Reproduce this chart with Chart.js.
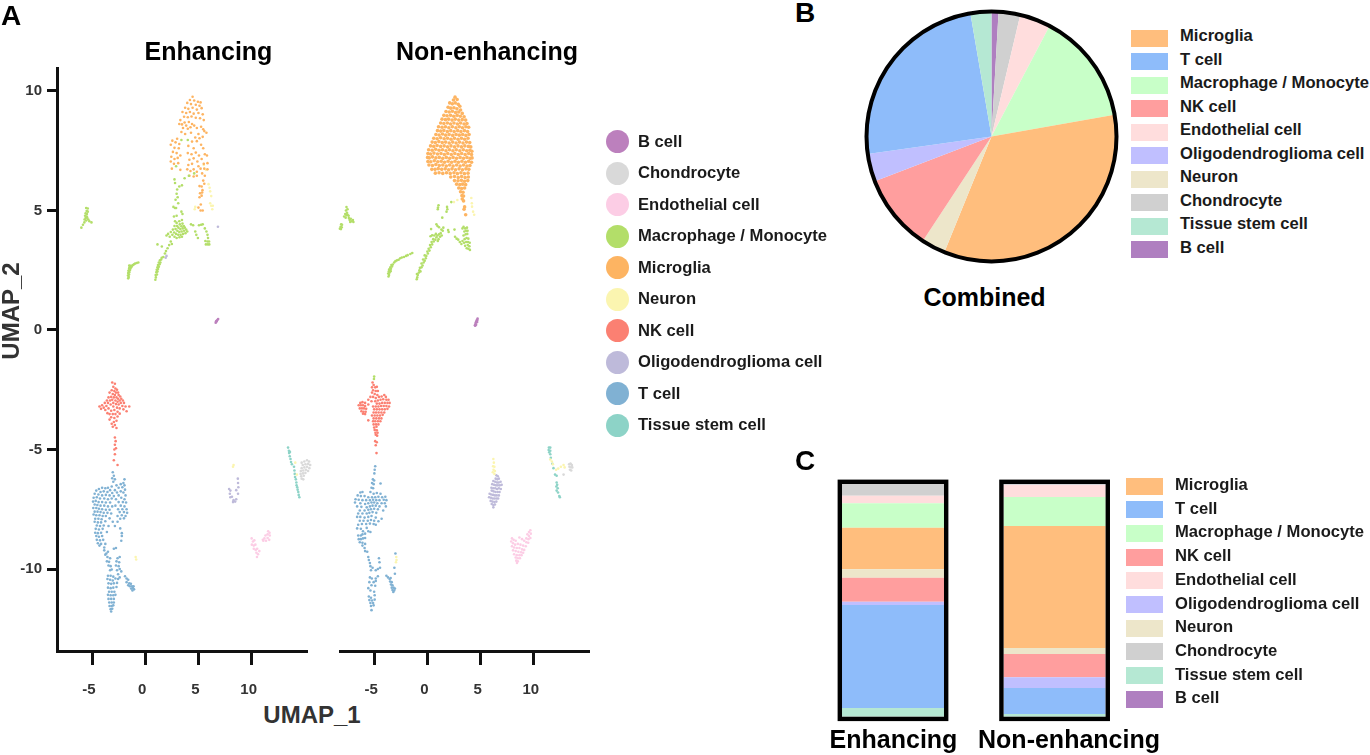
<!DOCTYPE html>
<html><head><meta charset="utf-8">
<script src="https://cdn.jsdelivr.net/npm/chart.js@4"></script>
<style>
html,body{margin:0;padding:0;background:#fff;width:1370px;height:755px;overflow:hidden;font-family:"Liberation Sans",Arial,sans-serif;font-weight:bold}
canvas{position:absolute}
.t{position:absolute;white-space:nowrap;transform:translate(-50%,-50%);color:#000;line-height:1}
.l{position:absolute;white-space:nowrap;transform:translateY(-50%);font-size:16.6px;line-height:1;color:#1a1a1a}
.s{position:absolute}
</style></head><body>
<script>
const panelTitles=['Enhancing','Non-enhancing'];
const xTitle='UMAP_1', yTitle='UMAP_2', pieTitle='Combined';
const scatterNames=['B cell','Chondrocyte','Endothelial cell','Macrophage / Monocyte','Microglia','Neuron','NK cell','Oligodendroglioma cell','T cell','Tissue stem cell'];
const scatterColors=['#BC80BD','#D9D9D9','#FCCDE5','#B3DE69','#FDB462','#FBF5B0','#FB8072','#BEBADA','#80B1D3','#8DD3C7'];
const stackNames=['Microglia','T cell','Macrophage / Monocyte','NK cell','Endothelial cell','Oligodendroglioma cell','Neuron','Chondrocyte','Tissue stem cell','B cell'];
const stackColors=['#FFBE7D','#8EBCFA','#C8FFC8','#FF9E9E','#FFDDDD','#C0BFFF','#EDE6CA','#D0D0D0','#B5E8D3','#AF7FC0'];
const pieNames=['B cell','Chondrocyte','Endothelial cell','Macrophage / Monocyte','Microglia','Neuron','NK cell','Oligodendroglioma cell','T cell','Tissue stem cell'];
const pieValues=[0.9,2.8,4.0,14.5,33.9,3.1,9.9,3.6,24.5,2.7];
const barTissue=[3.7,1.15];
const barT=[44.3,11.2];
const barOligo=[1.4,4.6];
const barNK=[10.3,10];
const barNeuron=[3.7,2.6];
const barMicroglia=[17.8,52.4];
const barMacro=[10.5,12.5];
const barEndo=[3.2,5.15];
const barChondro=[5.1,0.3];
const barB=[0,0.1];
const xTicks=[-5,0,5,10];
const yTicks=[-10,-5,0,5,10];

// Enhancing, flat x,y lists
const enhB=[6.62,0.3,6.68,0.34,6.72,0.38,6.78,0.42,6.85,0.46,6.66,0.36];
const enhChondro=[14.7,-5.55,14.95,-5.5,15.2,-5.45,15.4,-5.5,14.8,-5.65,15.05,-5.62,15.3,-5.6,15.5,-5.65,14.7,-5.78,14.95,-5.75,15.2,-5.72,15.42,-5.78,14.62,-5.9,14.85,-5.88,15.1,-5.85,15.3,-5.9,14.6,-6.02,14.82,-6,15.05,-5.98,14.65,-6.12,14.9,-6.1,14.7,-6.22,14.85,-6.25];
const enhEndo=[10.0,-8.72,10.12,-8.85,10.25,-8.8,10.02,-8.98,10.2,-9.02,10.35,-8.98,10.2,-9.15,10.38,-9.2,10.52,-9.15,10.45,-9.32,10.6,-9.38,10.5,-9.5,10.72,-9.25,11.05,-8.78,11.2,-8.72,11.35,-8.82,11.5,-8.7,11.65,-8.78,11.3,-8.6,11.5,-8.55,11.7,-8.6,11.55,-8.42,11.68,-8.48,11.1,-8.82];
const enhMacro=[-5.55,5.1,-5.4,5.08,-5.5,4.98,-5.4,4.95,-5.6,4.88,-5.48,4.85,-5.65,4.78,-5.5,4.75,-5.6,4.68,-5.45,4.7,-5.7,4.62,-5.55,4.58,-5.35,4.62,-5.25,4.55,-5.05,4.5,-5.72,4.5,-5.85,4.4,-6.0,4.28,
-1.6,2.16,-1.55,2.22,-1.62,2.28,-1.52,2.32,-1.6,2.38,-1.5,2.42,-1.58,2.48,-1.45,2.5,-1.52,2.56,-1.4,2.56,-1.48,2.62,-1.32,2.62,-1.4,2.68,-1.25,2.68,-1.15,2.72,-1.05,2.75,-0.95,2.78,-0.8,2.8,-0.65,2.82,-1.5,2.7,
0.95,2.1,1.0,2.2,0.98,2.3,1.1,2.32,1.05,2.42,1.15,2.45,1.08,2.52,1.2,2.55,1.15,2.62,1.28,2.65,1.2,2.72,1.35,2.75,1.28,2.82,1.42,2.82,1.38,2.92,1.5,2.95,1.55,3.02,1.7,3.05,1.85,3.2,1.95,3.3,2.1,3.42,2.25,3.55,2.4,3.7,1.15,3.58,1.56,3.49,2.5,3.6,
2.0,3.95,2.15,4.02,2.3,3.9,2.4,4.1,2.55,3.98,2.6,4.2,2.72,4.08,2.75,3.9,2.85,4.22,2.9,4.02,2.95,3.85,3.0,4.35,3.02,4.15,3.1,3.98,3.12,4.28,3.2,4.1,3.22,3.88,3.25,4.42,3.3,4.22,3.32,3.98,3.4,4.34,3.42,4.12,3.45,3.9,3.5,4.45,3.52,4.25,3.55,4.02,3.62,4.35,3.65,4.15,3.72,4.28,3.78,4.05,3.85,4.2,3.95,4.12,2.95,4.48,3.2,4.55,3.45,4.6,2.75,4.35,2.8,4.55,4.3,4.42,4.5,4.38,
2.7,4.75,2.95,4.78,3.5,4.85,2.9,5.1,3.4,4.95,
4.7,4.12,4.8,3.98,4.95,3.85,5.05,4.38,5.25,4.4,5.4,4.42,5.6,4.25,5.75,4.12,5.85,3.98,5.9,3.85,5.65,3.72,5.85,3.7,6.0,3.7,5.7,3.58,5.88,3.58,6.02,3.58,
2.75,6.3,2.8,6.15,3.2,6.0,3.45,6.05,3.0,5.88,2.95,5.7,3.05,5.55,2.85,5.45,3.1,5.3,2.65,5.15,2.8,5.1,3.7,6.35,4.1,6.45,2.9,6.85,3.4,7.95,4.0,7.95,4.6,6.55];
const enhMicroglia=[4.45,9.76,4.2,9.62,4.6,9.6,4.95,9.55,5.2,9.52,3.95,9.5,4.3,9.45,4.75,9.42,5.1,9.38,3.75,9.3,4.05,9.25,4.45,9.3,4.85,9.22,5.3,9.28,3.5,9.12,3.85,9.08,4.2,9.12,4.55,9.05,5.0,9.08,5.4,9.02,3.65,8.92,4.0,8.9,4.35,8.93,4.75,8.88,5.15,8.86,5.5,8.78,3.3,8.78,3.7,8.68,3.45,8.6,3.85,8.55,4.1,8.7,4.4,8.62,4.6,8.55,3.2,8.62,3.55,8.45,4.0,8.42,4.25,8.48,4.85,8.45,5.25,8.5,5.45,8.4,3.4,8.28,3.75,8.2,4.3,8.25,5.0,8.2,5.55,8.32,5.75,8.25,
3.0,8.0,4.7,8.05,5.1,8.02,5.4,8.08,2.55,7.92,2.85,7.85,3.2,7.78,4.4,7.88,4.85,7.9,5.25,7.75,2.4,7.75,2.75,7.62,3.15,7.6,4.05,7.7,4.55,7.6,5.45,7.6,2.6,7.45,2.95,7.4,3.3,7.3,4.0,7.4,4.35,7.35,4.75,7.42,5.05,7.3,5.6,7.35,2.45,7.25,2.75,7.15,3.05,7.2,4.15,7.12,4.55,7.18,4.9,7.05,5.3,7.15,5.8,7.3,2.4,7.05,2.7,6.95,3.1,6.98,4.05,6.9,4.4,6.95,5.0,6.85,5.5,6.95,5.85,6.98,2.5,6.75,3.3,6.7,3.95,6.72,4.25,6.65,4.55,6.72,4.85,6.62,5.2,6.75,5.55,6.75,5.85,6.72,4.15,6.45,4.55,6.42,4.85,6.45,5.35,6.55,5.6,6.45,5.45,6.25,5.55,6.12,5.3,6.0,5.1,6.02,5.38,5.85,5.15,5.72,5.3,5.62,5.1,5.55,5.35,5.75,5.0,5.12,5.2,5.0,5.22,5.25,5.4,5.0];
const enhNeuron=[5.95,6.1,6.05,5.95,6.1,5.8,6.2,5.6,6.1,5.3,6.2,5.2,6.3,5.05,6.35,5.2,4.7,5.15,4.65,5.05,5.5,6.9,5.7,6.7,14.1,-5.55,14.25,-6.05,8.3,-5.65,8.25,-5.72,-0.85,-9.6,-0.9,-9.5];
const enhNK=[-3.1,-2.2,-2.85,-2.25,-3.0,-2.38,-2.8,-2.45,-2.9,-2.55,-2.65,-2.5,-3.15,-2.52,-2.75,-2.62,-2.55,-2.62,-3.05,-2.68,-3.35,-2.62,-2.85,-2.72,-2.5,-2.72,-2.35,-2.78,-3.2,-2.8,-2.95,-2.82,-2.7,-2.82,-3.45,-2.82,-2.55,-2.88,-2.25,-2.88,-3.1,-2.92,-2.8,-2.95,-2.4,-2.95,-3.6,-2.95,-3.3,-2.95,-2.1,-2.95,-2.6,-3.0,-3.0,-3.05,-2.3,-3.05,-3.5,-3.05,-3.8,-3.05,-2.0,-3.05,-2.75,-3.1,-3.25,-3.12,-2.5,-3.12,-4.05,-3.15,-4.3,-3.2,-3.65,-3.18,-3.9,-3.25,-3.0,-3.2,-2.15,-3.18,-1.85,-3.2,-2.65,-3.25,-3.45,-3.28,-3.75,-3.35,-2.4,-3.28,-4.15,-3.3,-2.9,-3.35,-3.2,-3.38,-1.5,-3.2,-2.05,-3.32,-2.6,-3.42,-3.55,-3.48,-3.35,-3.52,-3.05,-3.52,-2.8,-3.52,-2.4,-3.5,-1.75,-3.4,-3.2,-3.65,-2.9,-3.68,-2.6,-3.62,-3.35,-3.75,-2.95,-3.85,-2.7,-3.8,-3.15,-3.92,-2.85,-3.98,-3.05,-4.05,-2.7,-4.1,-2.85,-4.5,-2.78,-4.65,-2.85,-4.8,-2.75,-4.95,-2.9,-5.0,-2.85,-5.2,-2.95,-5.45,-2.6,-5.65];
const enhOligo=[8.7,-6.22,8.72,-6.4,8.75,-6.58,8.55,-6.7,8.72,-6.85,7.88,-6.65,8.0,-6.72,7.95,-6.85,8.15,-6.98,8.0,-7.0,8.3,-7.12,8.45,-7.18,8.55,-7.08,8.25,-7.2,6.83,4.32,2.0,3.1,1.92,3.02];
const enhT=[-3.05,-5.95,-2.95,-6.1,-3.1,-6.2,-2.85,-6.25,-1.95,-6.25,-3.0,-6.35,-2.05,-6.4,-2.3,-6.45,-2.7,-6.5,-3.15,-6.55,-1.95,-6.5,-3.5,-6.6,-2.15,-6.58,-2.5,-6.6,-4.35,-6.65,-4.05,-6.6,-3.75,-6.62,-3.3,-6.7,-2.85,-6.7,-1.9,-6.68,-4.6,-6.72,-4.2,-6.78,-3.9,-6.75,-3.55,-6.78,-3.1,-6.82,-2.65,-6.8,-2.3,-6.75,-2.05,-6.8,-4.75,-6.85,-4.4,-6.88,-4.05,-6.92,-3.7,-6.9,-3.35,-6.92,-2.95,-6.95,-2.5,-6.92,-1.85,-6.92,-4.85,-7.02,-4.55,-7.0,-4.25,-7.05,-3.85,-7.05,-3.5,-7.08,-3.15,-7.05,-2.75,-7.08,-2.25,-7.02,-1.95,-7.08,-4.9,-7.18,-4.65,-7.15,-4.38,-7.2,-4.05,-7.2,-3.7,-7.22,-3.3,-7.22,-2.5,-7.2,-2.1,-7.2,-1.8,-7.22,-4.75,-7.3,-4.5,-7.32,-4.2,-7.35,-3.85,-7.35,-3.5,-7.38,-3.1,-7.38,-2.8,-7.35,-2.3,-7.35,-1.95,-7.38,-4.88,-7.45,-4.6,-7.45,-4.35,-7.48,-4.05,-7.5,-3.7,-7.52,-3.35,-7.52,-2.55,-7.5,-2.15,-7.5,-1.75,-7.5,-4.75,-7.6,-4.48,-7.6,-4.2,-7.62,-3.9,-7.65,-3.55,-7.65,-3.2,-7.68,-2.4,-7.62,-2.0,-7.62,-1.7,-7.65,-4.85,-7.72,-4.6,-7.75,-4.3,-7.75,-4.0,-7.78,-3.7,-7.78,-2.6,-7.78,-2.2,-7.75,-1.85,-7.78,-4.7,-7.9,-4.4,-7.9,-4.1,-7.92,-2.35,-7.9,-2.0,-7.88,-3.35,-7.88,-4.75,-8.02,-4.45,-8.05,-4.15,-8.05,-3.75,-8.0,-3.05,-8.02,-2.6,-8.02,-4.55,-8.18,-4.25,-8.2,-3.9,-8.18,-3.45,-8.2,-2.85,-8.2,-4.65,-8.32,-4.35,-8.35,-4.0,-8.32,-2.35,-8.3,-4.7,-8.48,-4.45,-8.5,-4.15,-8.48,-3.6,-8.45,-2.2,-8.5,-4.6,-8.62,-4.35,-8.65,-4.05,-8.62,-2.2,-8.62,-4.55,-8.78,-4.25,-8.8,-3.95,-8.78,-2.25,-8.82,-4.45,-8.92,-4.15,-8.95,-3.75,-8.95,-4.3,-9.02,-3.85,-9.1,-3.85,-9.22,-3.65,-9.35,-3.5,-9.28,-2.95,-9.15,-2.75,-9.12,-3.75,-9.4,-3.55,-9.5,-3.3,-9.55,-3.6,-9.68,-3.4,-9.7,-2.6,-9.55,-2.4,-9.5,-2.7,-9.68,-2.45,-9.72,-3.45,-9.85,-3.25,-9.88,-2.75,-9.85,-2.5,-9.88,-3.3,-10.05,-3.15,-10.02,-2.65,-10.05,-2.4,-10.0,-2.25,-10.1,-3.5,-10.28,-3.25,-10.28,-3.0,-10.32,-2.55,-10.22,-3.55,-10.42,-3.3,-10.45,-3.05,-10.48,-2.8,-10.4,-2.55,-10.42,-2.4,-10.35,-3.45,-10.6,-3.2,-10.62,-2.95,-10.6,-2.65,-10.58,-3.5,-10.78,-3.25,-10.8,-3.0,-10.78,-2.7,-10.75,-3.4,-10.95,-3.15,-10.95,-2.9,-10.95,-3.5,-11.08,-3.25,-11.1,-3.0,-11.1,-2.8,-11.08,-3.45,-11.25,-3.2,-11.25,-2.95,-11.25,-3.38,-11.4,-3.15,-11.4,-2.95,-11.4,-3.35,-11.55,-3.15,-11.55,-3.0,-11.52,-3.25,-11.68,-3.1,-11.66,-3.2,-11.78,
-1.9,-10.3,-1.75,-10.4,-1.6,-10.45,-1.75,-10.55,-1.5,-10.6,-1.6,-10.68,-1.35,-10.62,-1.45,-10.72,-1.25,-10.72,-1.32,-10.82,-1.15,-10.8,-1.2,-10.9,-1.05,-10.85,-1.1,-10.72];
const enhTissue=[13.42,-4.92,13.5,-5.05,13.52,-5.15,13.58,-5.28,13.65,-5.4,13.7,-5.52,13.78,-5.62,13.98,-5.72,14.02,-5.88,14.05,-6.02,14.08,-6.15,14.15,-6.25,14.2,-6.38,14.22,-6.5,14.28,-6.58,14.32,-6.68,14.38,-6.78,14.42,-6.9,14.48,-7.0,13.6,-5.1];
// Non-enhancing, flat x,y lists
const nonB=[4.47,0.2,4.52,0.25,4.55,0.31,4.6,0.36,4.65,0.42,4.72,0.48,4.58,0.22,4.68,0.33,4.5,0.18,4.7,0.42];
const nonChondro=[13.32,-5.62,13.45,-5.6,13.58,-5.65,13.35,-5.72,13.5,-5.74,13.62,-5.75,13.4,-5.85,13.52,-5.88,13.45,-5.6,12.8,-6.05];
const nonEndo=[9.68,-8.38,9.55,-8.45,9.72,-8.52,9.4,-8.55,9.55,-8.62,9.3,-8.72,9.5,-8.75,9.68,-8.7,8.65,-8.68,8.9,-8.75,9.1,-8.82,9.3,-8.88,9.48,-8.9,7.95,-8.72,8.1,-8.78,8.3,-8.82,7.88,-8.85,8.05,-8.92,8.25,-8.98,8.5,-8.95,8.75,-8.98,9.0,-9.02,9.25,-9.05,7.95,-9.05,8.15,-9.1,8.4,-9.12,8.65,-9.12,8.9,-9.18,9.1,-9.2,8.05,-9.22,8.3,-9.25,8.55,-9.28,8.8,-9.3,9.0,-9.32,8.15,-9.38,8.4,-9.42,8.65,-9.42,8.85,-9.42,8.3,-9.52,8.5,-9.55,8.7,-9.55,8.35,-9.65,8.5,-9.68,8.42,-9.75];
const nonMacro=[-7.6,5.14,-7.5,5.05,-7.65,5.0,-7.55,4.9,-7.72,4.85,-7.6,4.8,-7.82,4.75,-7.68,4.7,-7.5,4.82,-7.4,4.78,-7.38,4.68,-7.3,4.6,-7.2,4.65,-7.12,4.55,-7.0,4.6,-6.95,4.52,-7.25,4.52,-8.1,4.42,-8.02,4.4,-8.15,4.32,-8.05,4.3,-8.22,4.24,-8.12,4.22,
-3.65,2.24,-3.6,2.3,-3.68,2.36,-3.55,2.4,-3.62,2.46,-3.5,2.5,-3.58,2.54,-3.42,2.56,-3.48,2.62,-3.32,2.66,-3.38,2.72,-3.25,2.74,-3.12,2.82,-3.0,2.88,-2.85,2.92,-2.7,2.94,-2.55,3.0,-2.4,3.03,-2.2,3.05,-2.0,3.1,-1.85,3.13,-1.6,3.18,-1.42,3.22,-3.45,2.46,
-1.0,2.12,-0.95,2.2,-0.9,2.3,-0.98,2.34,-0.8,2.4,-0.75,2.5,-0.65,2.45,-0.7,2.6,-0.55,2.62,-0.45,2.7,-0.55,2.78,-0.35,2.82,-0.25,2.9,-0.4,2.95,-0.15,3.0,-0.1,3.1,-0.25,3.12,0.05,3.2,0.0,3.28,0.2,3.32,0.12,3.4,0.32,3.46,0.25,3.55,0.45,3.58,0.4,3.68,0.6,3.7,0.55,3.8,0.75,3.78,0.85,3.88,0.3,3.92,0.45,3.96,0.65,3.95,0.95,3.95,1.1,4.0,0.8,4.02,1.25,4.05,1.2,3.9,1.35,3.95,1.05,3.8,0.98,3.72,1.45,4.15,1.32,4.2,1.5,4.28,1.1,4.3,0.95,4.35,0.85,4.42,0.35,4.22,
2.55,4.2,2.6,3.9,2.75,3.82,2.9,3.78,3.05,3.68,3.2,3.6,3.3,3.72,3.45,3.65,3.55,3.52,3.7,3.42,3.85,3.4,4.0,3.35,3.8,3.55,3.95,3.5,3.65,3.68,3.82,3.68,3.98,3.65,3.5,3.8,3.68,3.85,3.85,3.82,3.4,3.95,3.6,4.0,3.75,4.02,3.48,4.12,3.65,4.15,3.78,4.15,3.55,4.25,3.72,4.28,3.3,4.25,3.4,4.32,2.0,4.1,1.95,4.18,
1.05,5.22,1.0,5.12,0.98,5.05,1.85,5.15,1.88,5.05,1.8,4.95,1.4,4.7,2.25,5.35,-5.0,-1.95,-5.02,-2.05];
const nonMicroglia=[2.6,9.74,2.45,9.62,2.8,9.64,2.1,9.5,2.35,9.46,2.62,9.5,2.9,9.44,3.05,9.36,1.95,9.32,2.2,9.28,2.5,9.3,2.78,9.25,3.12,9.2,1.75,9.14,2.05,9.12,2.35,9.15,2.65,9.1,2.95,9.12,3.28,9.06,1.55,8.98,1.85,8.96,2.18,8.98,2.48,8.94,2.8,8.98,3.1,8.94,3.45,8.92,1.38,8.82,1.7,8.8,2.0,8.82,2.32,8.78,2.62,8.82,2.95,8.78,3.28,8.8,3.6,8.78,1.25,8.66,1.55,8.64,1.88,8.66,2.18,8.62,2.5,8.66,2.82,8.62,3.12,8.66,3.45,8.62,3.72,8.64,1.05,8.5,1.38,8.48,1.7,8.5,2.02,8.46,2.35,8.5,2.68,8.46,3.0,8.5,3.3,8.46,3.62,8.5,3.88,8.48,0.95,8.34,1.25,8.32,1.55,8.35,1.88,8.3,2.2,8.34,2.52,8.3,2.85,8.34,3.15,8.3,3.48,8.34,3.78,8.3,0.8,8.18,1.1,8.16,1.42,8.2,1.72,8.15,2.05,8.18,2.38,8.14,2.7,8.18,3.0,8.15,3.32,8.18,3.62,8.14,3.92,8.18,0.6,8.02,0.92,8.0,1.25,8.04,1.58,8.0,1.9,8.02,2.22,7.98,2.55,8.02,2.88,7.98,3.2,8.02,3.5,7.98,3.82,8.02,0.45,7.86,0.75,7.84,1.08,7.88,1.4,7.84,1.72,7.86,2.05,7.82,2.38,7.86,2.7,7.82,3.02,7.86,3.35,7.82,3.68,7.86,3.98,7.84,0.3,7.7,0.6,7.68,0.92,7.72,1.25,7.68,1.58,7.7,1.9,7.66,2.22,7.7,2.55,7.66,2.88,7.7,3.2,7.66,3.52,7.7,3.85,7.68,4.08,7.66,0.12,7.54,0.45,7.52,0.78,7.56,1.1,7.52,1.42,7.54,1.75,7.5,2.08,7.54,2.4,7.5,2.72,7.54,3.05,7.5,3.38,7.54,3.7,7.5,4.0,7.52,4.18,7.48,0.05,7.38,0.3,7.36,0.62,7.4,0.95,7.36,1.28,7.38,1.6,7.34,1.92,7.38,2.25,7.34,2.58,7.38,2.9,7.34,3.22,7.38,3.55,7.34,3.88,7.38,4.15,7.34,0.02,7.22,0.18,7.2,0.48,7.24,0.8,7.2,1.12,7.22,1.45,7.18,1.78,7.22,2.1,7.18,2.42,7.22,2.75,7.18,3.08,7.22,3.4,7.18,3.72,7.22,4.02,7.18,4.2,7.2,0.05,7.05,0.32,7.04,0.65,7.08,0.98,7.04,1.3,7.06,1.62,7.02,1.95,7.06,2.28,7.02,2.6,7.06,2.92,7.02,3.25,7.06,3.58,7.02,3.88,7.06,4.15,7.02,0.15,6.9,0.48,6.88,0.8,6.92,1.12,6.88,1.45,6.9,1.78,6.86,2.1,6.9,2.42,6.86,2.75,6.9,3.08,6.86,3.4,6.9,3.72,6.86,4.0,6.88,0.42,6.72,0.72,6.72,1.02,6.75,1.35,6.72,1.68,6.74,2.0,6.7,2.32,6.74,2.65,6.7,2.98,6.74,3.3,6.7,3.62,6.74,3.9,6.72,0.75,6.56,1.1,6.58,1.45,6.55,1.8,6.58,2.15,6.55,2.5,6.58,2.82,6.54,3.15,6.58,3.48,6.54,3.82,6.56,2.2,6.4,2.55,6.42,2.9,6.38,3.22,6.42,3.55,6.38,3.85,6.4,2.55,6.25,2.88,6.24,3.2,6.26,3.5,6.22,3.8,6.25,2.75,6.1,3.05,6.08,3.32,6.1,3.6,6.08,2.95,5.94,3.22,5.92,3.5,5.94,3.12,5.78,3.35,5.76,3.25,5.62,3.4,5.6,3.28,5.48,3.4,5.4,3.5,5.15,3.45,5.05,3.6,4.82];
const nonNeuron=[4.13,5.52,4.18,5.3,4.2,5.16,4.4,4.82,4.3,4.95,2.82,5.44,2.5,5.35,6.2,-5.4,6.25,-5.55,6.18,-5.7,6.3,-5.72,6.22,-5.85,6.35,-5.9,6.15,-5.95,6.3,-6.02,-2.92,-9.5,-2.9,-9.62,-2.95,-9.72,11.55,-5.42,11.7,-5.5,11.8,-5.62,12.1,-5.85,12.3,-5.8,12.55,-5.72,12.8,-5.65,12.9,-5.75];
const nonNK=[-5.15,-2.2,-5.05,-2.3,-5.2,-2.4,-4.9,-2.4,-4.75,-2.38,-5.1,-2.52,-4.85,-2.55,-4.65,-2.55,-5.2,-2.62,-4.95,-2.68,-4.7,-2.72,-5.35,-2.8,-5.1,-2.8,-4.85,-2.85,-4.55,-2.8,-4.3,-2.78,-4.05,-2.72,-3.9,-2.8,-5.55,-2.92,-5.25,-2.98,-4.9,-2.98,-4.65,-2.95,-4.4,-2.92,-4.15,-2.9,-3.85,-2.92,-3.65,-2.92,-6.3,-3.05,-6.1,-3.02,-5.85,-3.05,-5.55,-3.12,-4.75,-3.08,-4.5,-3.08,-4.25,-3.05,-4.0,-3.05,-3.75,-3.05,-3.55,-3.05,-6.45,-3.15,-6.25,-3.15,-6.05,-3.15,-5.85,-3.18,-5.1,-3.2,-4.85,-3.2,-4.6,-3.2,-4.35,-3.18,-4.1,-3.18,-3.85,-3.18,-3.6,-3.2,-6.35,-3.28,-6.15,-3.28,-5.95,-3.28,-5.75,-3.3,-5.0,-3.32,-4.75,-3.32,-4.5,-3.32,-4.25,-3.32,-4.0,-3.32,-3.75,-3.3,-6.2,-3.4,-6.0,-3.42,-5.8,-3.42,-5.05,-3.45,-4.82,-3.45,-4.58,-3.45,-4.32,-3.45,-4.05,-3.45,-6.05,-3.5,-5.85,-3.52,-5.2,-3.58,-4.95,-3.58,-4.7,-3.58,-4.45,-3.58,-4.2,-3.55,-5.05,-3.7,-4.8,-3.7,-4.55,-3.7,-4.32,-3.7,-5.55,-3.78,-5.1,-3.82,-4.9,-3.82,-4.65,-3.82,-4.42,-3.82,-5.05,-3.95,-4.82,-3.95,-4.6,-3.95,-5.0,-4.08,-4.78,-4.05,-4.95,-4.18,-4.75,-4.2,-4.88,-4.3,-4.68,-4.3,-4.85,-4.38,-4.72,-4.42,-4.9,-4.65,-4.75,-4.7,-4.85,-4.82,-4.78,-5.15];
const nonOligo=[6.48,-6.08,6.62,-6.12,6.42,-6.22,6.58,-6.25,6.72,-6.22,6.2,-6.32,6.38,-6.35,6.55,-6.38,6.7,-6.38,6.88,-6.35,6.1,-6.45,6.28,-6.48,6.45,-6.5,6.62,-6.5,6.8,-6.5,6.98,-6.48,6.02,-6.6,6.2,-6.62,6.38,-6.62,6.55,-6.65,6.72,-6.62,6.9,-6.65,6.05,-6.72,6.22,-6.75,6.4,-6.78,6.6,-6.78,6.78,-6.78,5.85,-6.85,6.0,-6.88,6.18,-6.9,6.35,-6.92,6.52,-6.92,6.72,-6.92,5.8,-7.0,5.98,-7.02,6.15,-7.05,6.32,-7.05,6.5,-7.05,6.65,-7.05,5.95,-7.15,6.12,-7.18,6.3,-7.2,6.48,-7.18,6.05,-7.28,6.2,-7.32,6.35,-7.3,6.2,-7.42];
const nonT=[-4.9,-5.7,-4.95,-5.85,-4.98,-6.0,-5.12,-6.25,-5.0,-6.3,-5.2,-6.4,-5.05,-6.45,-4.4,-6.42,-5.25,-6.6,-5.1,-6.62,-6.3,-6.8,-6.1,-6.78,-5.9,-6.95,-5.35,-6.78,-5.05,-6.85,-4.75,-6.82,-4.4,-6.85,-6.55,-6.92,-6.25,-6.95,-5.55,-7.0,-5.2,-7.0,-4.9,-7.0,-4.6,-6.98,-4.25,-7.0,-3.95,-6.98,-6.75,-7.08,-6.45,-7.1,-6.1,-7.12,-5.75,-7.12,-5.4,-7.12,-5.1,-7.1,-4.8,-7.12,-4.5,-7.12,-4.1,-7.1,-3.85,-7.12,-6.8,-7.22,-6.3,-7.25,-5.85,-7.28,-5.55,-7.25,-5.25,-7.22,-5.0,-7.22,-4.7,-7.25,-4.3,-7.25,-4.0,-7.25,-6.6,-7.38,-6.2,-7.4,-5.7,-7.42,-5.4,-7.38,-5.15,-7.35,-4.85,-7.35,-4.5,-7.38,-3.9,-7.38,-6.35,-7.55,-5.9,-7.55,-5.55,-7.52,-5.3,-7.5,-5.0,-7.48,-4.65,-7.5,-4.15,-7.55,-6.5,-7.68,-6.1,-7.68,-5.7,-7.68,-5.45,-7.65,-5.15,-7.62,-4.8,-7.65,-6.6,-7.82,-6.3,-7.82,-5.9,-7.85,-5.55,-7.82,-5.25,-7.78,-4.85,-7.85,-4.3,-7.9,-6.35,-7.98,-6.0,-7.98,-5.6,-7.98,-5.3,-7.95,-5.0,-7.98,-4.6,-8.0,-6.5,-8.15,-6.15,-8.12,-5.75,-8.12,-5.4,-8.1,-5.05,-8.12,-4.85,-8.15,-6.6,-8.3,-6.25,-8.32,-5.7,-8.28,-6.05,-8.42,-6.1,-8.55,-5.85,-8.52,-5.55,-8.42,-5.35,-8.45,-6.5,-8.6,-6.25,-8.6,-6.45,-8.75,-6.25,-8.75,-6.05,-8.72,-5.85,-8.7,-6.35,-8.88,-6.1,-8.9,-5.85,-8.95,-6.1,-9.02,-5.9,-9.12,-5.85,-9.25,-5.65,-9.28,-5.55,-9.5,-5.5,-9.62,-5.4,-9.75,-5.35,-9.88,-4.55,-9.55,-4.5,-9.72,-5.15,-9.95,-5.3,-10.05,-4.65,-10.0,-4.45,-9.95,-4.85,-10.05,-5.4,-10.35,-5.22,-10.4,-4.85,-10.4,-4.65,-10.3,-5.45,-10.55,-5.05,-10.55,-4.85,-10.5,-5.25,-10.68,-5.55,-10.8,-4.9,-10.7,-5.35,-10.9,-5.0,-10.95,-5.5,-11.15,-5.3,-11.2,-4.95,-11.1,-5.45,-11.3,-5.2,-11.32,-4.95,-11.28,-5.35,-11.42,-5.1,-11.42,-5.3,-11.55,-5.05,-11.52,-5.25,-11.72,
-3.85,-10.28,-3.7,-10.35,-3.55,-10.42,-3.45,-10.38,-3.5,-10.52,-3.35,-10.55,-3.42,-10.65,-3.28,-10.68,-3.35,-10.78,-3.18,-10.78,-3.28,-10.88,-3.12,-10.9,-3.2,-10.96,-3.05,-10.82,-3.0,-9.35,-3.1,-9.95,-3.05,-10.2];
const nonTissue=[11.42,-4.92,11.55,-4.92,11.4,-5.02,11.55,-5.05,11.45,-5.12,11.55,-5.2,11.6,-5.35,11.75,-5.6,11.85,-5.78,12.0,-6.05,12.15,-6.1,12.15,-6.38,12.2,-6.48,12.12,-6.55,12.25,-6.62,12.15,-6.72,12.28,-6.8,12.4,-6.95,12.45,-7.0];

const enhSeries=[enhB,enhChondro,enhEndo,enhMacro,enhMicroglia,enhNeuron,enhNK,enhOligo,enhT,enhTissue];
const nonSeries=[nonB,nonChondro,nonEndo,nonMacro,nonMicroglia,nonNeuron,nonNK,nonOligo,nonT,nonTissue];

function pairs(a){const o=[];for(let i=0;i+1<a.length;i+=2)o.push({x:a[i],y:a[i+1]});return o;}
function addCanvas(l,t,w,h){const c=document.createElement('canvas');c.style.left=l+'px';c.style.top=t+'px';c.style.width=w+'px';c.style.height=h+'px';c.width=w;c.height=h;document.body.appendChild(c);return c.getContext('2d');}
function addText(txt,x,y,size,extra){const d=document.createElement('div');d.className='t';d.textContent=txt;d.style.left=x+'px';d.style.top=y+'px';d.style.fontSize=size+'px';if(extra)Object.assign(d.style,extra);document.body.appendChild(d);}
function addLegend(names,colors,boxL,boxW,boxH,textL,y0,pitch,boxDy,round){names.forEach((n,i)=>{const y=y0+i*pitch;const s=document.createElement('div');s.className='s';Object.assign(s.style,{left:boxL+'px',top:(y+boxDy-boxH/2)+'px',width:boxW+'px',height:boxH+'px',background:colors[i],borderRadius:round?'50%':'0'});document.body.appendChild(s);const t=document.createElement('div');t.className='l';t.textContent=n;t.style.left=textL+'px';t.style.top=y+'px';document.body.appendChild(t);});}

const font={family:'"Liberation Sans",Arial,sans-serif',weight:'bold',size:15};
const INK='#111', TICK='#333';
function scatter(ctx,series,xMin,xMax,pad,showY){
 return new Chart(ctx,{type:'scatter',
  data:{datasets:series.map((s,i)=>({label:scatterNames[i],data:pairs(s),backgroundColor:scatterColors[i],pointRadius:series===nonSeries&&i===4?1.8:1.3,pointBorderWidth:0,clip:false}))},
  options:{responsive:false,animation:false,events:[],layout:{padding:pad},
   plugins:{legend:{display:false},tooltip:{enabled:false},title:{display:false}},
   scales:{
    x:{type:'linear',min:xMin,max:xMax,afterFit:s=>{s.height=49;},afterBuildTicks:s=>{s.ticks=xTicks.map(v=>({value:v}));},
     border:{display:true,width:3,color:INK},
     grid:{display:true,drawOnChartArea:false,drawTicks:true,tickLength:14,tickWidth:3,tickColor:INK},
     ticks:{font,color:TICK,padding:16,labelOffset:-3,maxRotation:0,autoSkip:false}},
    y:{type:'linear',display:showY,min:-13.43,max:10.96,afterFit:s=>{s.width=showY?57:0;},afterBuildTicks:s=>{s.ticks=yTicks.map(v=>({value:v}));},
     border:{display:true,width:3,color:INK},
     grid:{display:true,drawOnChartArea:false,drawTicks:true,tickLength:10,tickWidth:3,tickColor:INK},
     ticks:{font,color:TICK,padding:5,autoSkip:false}}
   }}});
}
scatter(addCanvas(0,0,340,700),enhSeries,-8.29,15.2,{left:0,right:33,top:68,bottom:0},true);
scatter(addCanvas(320,0,290,700),nonSeries,-8.21,15.19,{left:20,right:21,top:68,bottom:0},false);

addLegend(scatterNames,scatterColors,606,23,23,638,141.5,31.5,0,true);

const ringPlugin={id:'ring',afterDatasetsDraw(c){const a=c.getDatasetMeta(0).data[0];const g=c.ctx;g.save();g.beginPath();g.arc(a.x,a.y,a.outerRadius,0,Math.PI*2);g.lineWidth=4;g.strokeStyle='#000';g.stroke();g.restore();}};
const pieColors=pieNames.map(n=>stackColors[stackNames.indexOf(n)]);
new Chart(addCanvas(855,0,273,273),{type:'pie',plugins:[ringPlugin],
 data:{labels:pieNames,datasets:[{data:pieValues,backgroundColor:pieColors,borderWidth:0}]},
 options:{responsive:false,animation:false,events:[],radius:125,plugins:{legend:{display:false},tooltip:{enabled:false}}}});
addLegend(stackNames,stackColors,1131,37,17,1180,36,23.55,2,false);

const barOrder=[['Tissue stem cell',barTissue],['T cell',barT],['Oligodendroglioma cell',barOligo],['NK cell',barNK],['Neuron',barNeuron],['Microglia',barMicroglia],['Macrophage / Monocyte',barMacro],['Endothelial cell',barEndo],['Chondrocyte',barChondro],['B cell',barB]];
const boxPlugin={id:'box',afterDatasetsDraw(c){const m=c.getDatasetMeta(0).data;const g=c.ctx,yS=c.scales.y;g.save();g.lineWidth=4.4;g.strokeStyle='#000';m.forEach(b=>{const w=b.width+4.4;const top=yS.getPixelForValue(100)-2.2,bot=yS.getPixelForValue(0)+2.2;g.strokeRect(b.x-w/2,top,w,bot-top);});g.restore();}};
new Chart(addCanvas(800,470,340,260),{type:'bar',plugins:[boxPlugin],
 data:{labels:panelTitles,datasets:barOrder.map(([n,v])=>({label:n,data:v,backgroundColor:stackColors[stackNames.indexOf(n)],borderWidth:0}))},
 options:{responsive:false,animation:false,events:[],layout:{padding:{left:12.2,right:4.6,top:14,bottom:13.3}},
  datasets:{bar:{barPercentage:0.631,categoryPercentage:1}},
  plugins:{legend:{display:false},tooltip:{enabled:false}},
  scales:{x:{display:false,stacked:true},y:{display:false,stacked:true,min:0,max:100}}}});
addLegend(stackNames,stackColors,1126,37,17,1175,485,23.7,1,false);

addText('A',11,16,28);addText('B',805,13,28);addText('C',805,461,28);
addText(panelTitles[0],208.5,51,25);addText(panelTitles[1],487,51,25);
addText(xTitle,312,715,24,{color:'#333'});
addText(yTitle,11,311,24,{color:'#333',transform:'translate(-50%,-50%) rotate(-90deg)'});
addText(pieTitle,984.5,297,25);
addText(panelTitles[0],893.5,739,25);addText(panelTitles[1],1069,739,25);
</script>
</body></html>
